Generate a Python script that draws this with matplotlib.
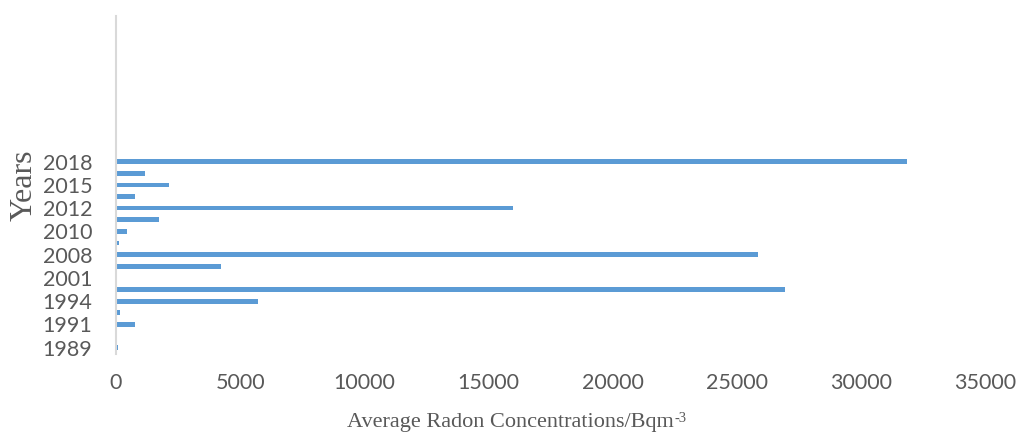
import matplotlib
matplotlib.use("Agg")
import matplotlib.pyplot as plt
import numpy as np

# Sampling years (bottom to top) and average radon concentration per year
years = ["1989", "1990", "1991", "1993", "1994", "1999", "2001", "2005", "2008",
         "2009", "2010", "2011", "2012", "2014", "2015", "2016", "2018"]
radon = [80, 0, 766, 150, 5700, 26930, 60, 4220, 25850,
         120, 457, 1720, 15980, 753, 2137, 1183, 31850]
xticks = [0, 5000, 10000, 15000, 20000, 25000, 30000, 35000]
n_slots = 29  # category axis slots; upper ones are unused

W, H = 1023, 437
fig = plt.figure(figsize=(W / 100, H / 100), dpi=100)
ax = fig.add_axes([0.1134, 0.191, 0.8496, 0.772])

pos = np.arange(len(years))
ax.barh(pos, radon, height=0.4, color="#5B9BD5")

tick_font = dict(family="Lato", fontsize=15.5, color="#595959")
ax.set_xlim(0, 35000)
ax.set_ylim(-0.5, n_slots - 0.5)
ax.set_xticks(xticks)
ax.set_xticklabels([str(v) for v in xticks], **tick_font)
ax.set_yticks(pos)
ax.set_yticklabels([y if i % 2 == 0 else "" for i, y in enumerate(years)], **tick_font)
ax.tick_params(axis="x", length=0, pad=14)
ax.tick_params(axis="y", length=0, pad=17)

for s in ["top", "right", "bottom"]:
    ax.spines[s].set_visible(False)
ax.spines["left"].set_color("#D9D9D9")
ax.spines["left"].set_linewidth(1.5)

# Axis titles
title_font = dict(family="Liberation Serif", color="#595959")
fig.text(24 / W, 1 - 185 / H, "Years", rotation=90, ha="center", va="center",
         fontsize=23, **title_font)

main = fig.text(347 / W, 1 - 423 / H, "Average Radon Concentrations/Bqm",
                ha="left", va="center", fontsize=16, **title_font)
fig.canvas.draw()
bb = main.get_window_extent()
fig.text((bb.x1 + 0.5) / W, (bb.y1 + 2) / H, "-3", ha="left", va="top",
         fontsize=10.5, **title_font)

fig.savefig("out.png", dpi=100)
